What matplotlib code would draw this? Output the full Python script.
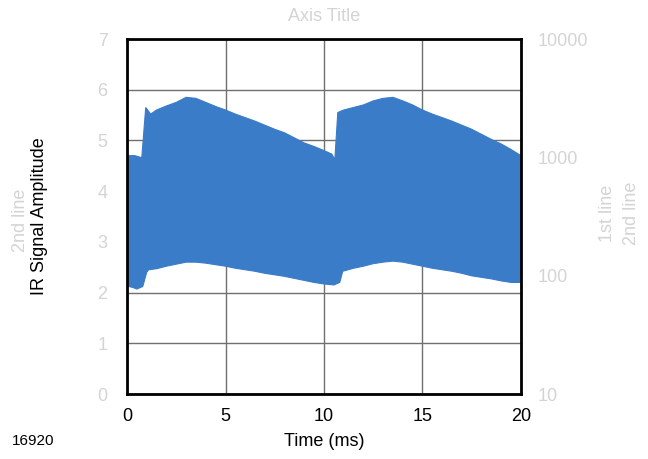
import numpy as np
import matplotlib
matplotlib.use("Agg")
import matplotlib.pyplot as plt

plt.rcParams['font.family'] = ['Liberation Sans', 'DejaVu Sans']

# upper envelope of the IR signal (time ms, amplitude)
t_up = [0, 0.4, 0.75, 0.95, 1.2, 1.5, 2.0, 2.5, 3.0, 3.5, 4.0, 4.5, 5.0, 5.5, 6.0,
        6.5, 7.0, 7.5, 8.0, 8.5, 9.0, 9.5, 10.0, 10.4, 10.55, 10.7, 11.0, 11.5, 12.0,
        12.5, 13.0, 13.5, 14.0, 14.5, 15.0, 15.5, 16.0, 16.5, 17.0, 17.5, 18.0, 18.5,
        19.0, 19.5, 20.0]
amp_up = [4.70, 4.70, 4.66, 5.65, 5.52, 5.60, 5.68, 5.75, 5.85, 5.83, 5.75, 5.67, 5.60,
          5.52, 5.45, 5.38, 5.30, 5.22, 5.15, 5.05, 4.95, 4.88, 4.80, 4.73, 4.62, 5.55,
          5.60, 5.65, 5.70, 5.78, 5.83, 5.85, 5.78, 5.70, 5.60, 5.52, 5.45, 5.38, 5.30,
          5.22, 5.12, 5.02, 4.93, 4.82, 4.70]

# lower envelope
t_lo = [0, 0.3, 0.5, 0.8, 1.0, 1.1, 1.5, 2.0, 2.5, 3.0, 3.5, 4.0, 4.5, 5.0, 5.5, 6.0,
        6.5, 7.0, 7.5, 8.0, 8.5, 9.0, 9.5, 10.0, 10.5, 10.8, 10.95, 11.5, 12.0, 12.5,
        13.0, 13.5, 14.0, 14.5, 15.0, 15.5, 16.0, 16.5, 17.0, 17.5, 18.0, 18.5, 19.0,
        19.5, 20.0]
amp_lo = [2.13, 2.10, 2.07, 2.12, 2.40, 2.45, 2.47, 2.52, 2.56, 2.60, 2.60, 2.58, 2.55,
          2.52, 2.48, 2.45, 2.42, 2.38, 2.35, 2.32, 2.28, 2.24, 2.20, 2.17, 2.15, 2.20,
          2.42, 2.48, 2.52, 2.57, 2.60, 2.62, 2.60, 2.56, 2.52, 2.48, 2.45, 2.42, 2.38,
          2.33, 2.30, 2.27, 2.23, 2.20, 2.20]

xticks = [0, 5, 10, 15, 20]
yticks = [0, 1, 2, 3, 4, 5, 6, 7]
rticks = [10, 100, 1000, 10000]

blue = '#3A7CC8'
light = '#d4d4d4'

fig = plt.figure(figsize=(6.48, 4.59), dpi=100)
ax = fig.add_axes([0.196, 0.1416, 0.608, 0.7734])

xs = np.r_[t_up, t_lo[::-1]]
ys = np.r_[amp_up, amp_lo[::-1]]
ax.fill(xs, ys, color=blue, lw=0.8, zorder=2)

ax.set_xlim(0, 20)
ax.set_ylim(0, 7)
ax.set_xticks(xticks)
ax.set_yticks(yticks)
ax.grid(True, color='#707070', lw=1, zorder=1)
ax.set_axisbelow(True)
for s in ax.spines.values():
    s.set_linewidth(2)
    s.set_color('black')
    s.set_zorder(5)
ax.tick_params(axis='x', length=0, labelsize=13, pad=10, colors='black')
ax.tick_params(axis='y', length=0, labelsize=13, pad=14, labelcolor=light)
ax.set_xlabel('Time (ms)', fontsize=13, labelpad=6)
ax.set_ylabel('IR Signal Amplitude', fontsize=13)
ax.yaxis.set_label_coords(-0.2, 0.5)

ax2 = ax.twinx()
ax2.set_yscale('log')
ax2.set_ylim(10, 10000)
ax2.set_yticks(rticks)
ax2.set_yticklabels([str(v) for v in rticks])
ax2.minorticks_off()
ax2.tick_params(axis='y', length=0, labelsize=13, pad=12, labelcolor=light)
for s in ax2.spines.values():
    s.set_visible(False)

fig.text(0.031, 0.52, '2nd line', rotation=90, color=light, fontsize=13,
         ha='center', va='center')
fig.text(0.938, 0.535, '1st line', rotation=90, color=light, fontsize=13,
         ha='center', va='center')
fig.text(0.975, 0.535, '2nd line', rotation=90, color=light, fontsize=13,
         ha='center', va='center')
fig.text(0.5, 0.965, 'Axis Title', color=light, fontsize=13, ha='center', va='center')
fig.text(0.018, 0.025, '16920', fontsize=11, ha='left', va='bottom')

fig.savefig('out.png', dpi=100)
